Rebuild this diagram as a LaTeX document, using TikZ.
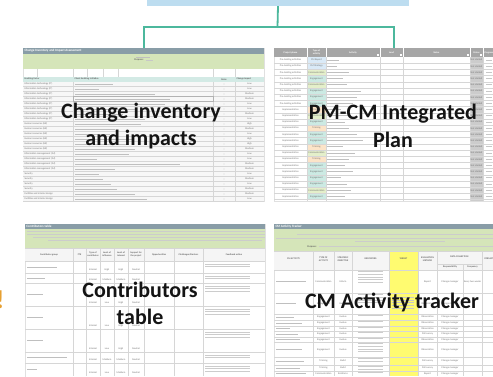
\documentclass[tikz,border=0pt]{standalone}
\usepackage{fontspec}
\setmainfont{Carlito}
\usetikzlibrary{positioning}

\definecolor{barblue}{RGB}{189,221,240}
\definecolor{linkteal}{RGB}{76,184,157}
\definecolor{slate}{RGB}{137,157,167}
\definecolor{notegreen}{RGB}{213,229,185}
\definecolor{headteal}{RGB}{211,234,229}
\definecolor{headgrey}{RGB}{166,166,166}
\definecolor{statusgrey}{RGB}{204,204,204}
\definecolor{typeblue}{RGB}{218,234,247}
\definecolor{typegreen}{RGB}{228,239,202}
\definecolor{typeteal}{RGB}{204,234,227}
\definecolor{typeorange}{RGB}{252,228,200}
\definecolor{targetyellow}{RGB}{255,251,112}
\definecolor{alertorange}{RGB}{230,160,50}

\tikzset{
  topbar/.style={fill=barblue, minimum width=262pt, minimum height=22pt, inner sep=0pt},
  link/.style={draw=linkteal, line width=1.8pt},
  panel/.style={draw=black!12, fill=white, line width=0.3pt, inner sep=0pt, anchor=north west},
  gridline/.style={draw=black!16, line width=0.3pt},
  blur/.style={fill=black!25},
  celltext/.style={font=\fontsize{2.5}{2.8}\selectfont, text=black!55, inner sep=0.3pt},
  headtext/.style={font=\bfseries\fontsize{3.3}{3.5}\selectfont, text=white, inner sep=0.3pt, anchor=west},
  colhead/.style={font=\bfseries\fontsize{2.4}{2.7}\selectfont, text=black!60, inner sep=0.3pt, align=center},
  biglabel/.style={font=\bfseries\fontsize{22}{27.5}\selectfont, text=black!92, align=center, inner sep=0pt},
}

\begin{document}
\begin{tikzpicture}[x=1pt,y=-1pt]
\useasboundingbox (0,0) rectangle (493,376);

%top bar
\node[topbar] (bar) at (278,-5) {};

%inventory panel
\node[panel, minimum width=241pt, minimum height=153pt] (invpanel) at (23,48) {};
\fill[slate] (23,48) rectangle (264,53.5);
\node[headtext] (invtitle) at (24,50.8) {Change Inventory and Impact Assessment};
\fill[notegreen] (23,53.5) rectangle (264,69);
\fill[black!25] (136,57.3) rectangle (150,58.1);
\node[celltext, text=black!60] (invpurpose) at (139,60.3) {\textbf{Purpose:}};
\fill[black!22] (146,59.9) rectangle (153,60.7);
\foreach \x in {37,73,87,103,118,213,235} \draw[gridline] (\x,69) -- (\x,77);
\fill[headteal] (23,77) rectangle (264,81.5);
\node[colhead, anchor=west] at (24,79.3) {Enabling factor};
\node[colhead, anchor=west] at (74,79.3) {Client Enabling Initiative};
\node[colhead] at (224,79.3) {Roles};
\node[colhead, anchor=west] at (236,79.3) {Change impact};
\fill[black!3] (23,81.5) rectangle (264,201);
\foreach \i in {0,...,23} \draw[gridline] (23,86.5+5*\i) -- (264,86.5+5*\i);
\foreach \x in {73,213,235} \draw[gridline] (\x,81.5) -- (\x,201);
\foreach \f [count=\i from 0] in {Information technology (IT),Information technology (IT),Information technology (IT),Information technology (IT),Information technology (IT),Information technology (IT),Information technology (IT),Information technology (IT),Human resources (HR),Human resources (HR),Human resources (HR),Human resources (HR),Human resources (HR),Human resources (HR),Information management (IM),Information management (IM),Information management (IM),Information management (IM),Security,Security,Security,Security,Facilities and interior design,Facilities and interior design}
  \node[celltext, anchor=west] at (24,84+5*\i) {\f};
\foreach \w [count=\i from 0] in {38,24,80,95,90,62,48,70,66,40,35,58,52,60,54,22,105,40,24,28,36,42,60,72}
  \fill[blur] (74.5,83.5+5*\i) rectangle ++(\w,1);
\foreach \v [count=\i from 0] in {Low,Low,Medium,Medium,Low,Low,Medium,Low,High,Medium,Low,High,High,Medium,Low,Low,Medium,Medium,Low,Medium,Low,Medium,Medium,Low}
  \node[celltext] at (249.5,84+5*\i) {\v};
\foreach \i in {0,...,23} \fill[black!40] (224,84+5*\i) circle (0.45);
\draw[black!30, line width=0.3pt] (73,96.5) rectangle (213,101.5);

%plan panel
\node[panel, minimum width=240pt, minimum height=153pt] (planpanel) at (274,48) {};
\fill[headgrey] (274,48) rectangle (514,57);
\fill[statusgrey] (470,57) rectangle (483,201);
\foreach \col/\txt [count=\i from 0] in {typeblue/CM Report,typeblue/CM Strategy,typegreen/Communication,typeteal/Engagement,typegreen/Communication,typeteal/Engagement,typeteal/Engagement,typeteal/Engagement,typeorange/Training,typegreen/Communication,typeteal/Engagement,typeorange/Training,typeteal/Engagement,typeteal/Engagement,typeorange/Training,typegreen/Communication,typeorange/Training,typeteal/Engagement,typeteal/Engagement,typeteal/Engagement,typeteal/Engagement,typegreen/Communication,typeteal/Engagement}
{
  \fill[\col] (307,{57+6.2*\i}) rectangle ++(19,6.2);
  \node[celltext] at (316.5,{60.1+6.2*\i}) {\txt};
}
\foreach \x in {307,326,380,403,470,483} \draw[white, line width=0.3pt] (\x,48) -- (\x,57);
\foreach \x in {307,326,380,403,470,483} \draw[gridline] (\x,57) -- (\x,201);
\foreach \i in {0,...,22} \draw[gridline] (274,{63.2+6.2*\i}) -- (514,{63.2+6.2*\i});
\node[colhead, text=white] at (290.5,52.5) {Project phase};
\node[colhead, text=white] at (316.5,52.5) {Type of\\activity};
\node[colhead, text=white] at (353,52.5) {Activity};
\node[colhead, text=white] at (391.5,52.5) {Lead};
\node[colhead, text=white] at (436.5,52.5) {Notes};
\node[colhead, text=white] at (476.5,52.5) {Status};
\node[colhead, text=white, anchor=west] at (484,52.5) {Progress};
\foreach \x in {380,403,470,483} \fill[white] ({\x-2.8},53.8) rectangle ++(2.2,2.4);
\foreach \i in {0,...,7} \node[celltext] at (290.5,{60.1+6.2*\i}) {Pre-landing activities};
\foreach \i in {8,...,22} \node[celltext] at (290.5,{60.1+6.2*\i}) {Implementation};
\foreach \w [count=\i from 0] in {12,10,22,16,20,34,30,26,14,24,18,22,30,36,16,28,22,18,26,14,20,24,18}
  \fill[blur] (327,{59.6+6.2*\i}) rectangle ++(\w,1);
\foreach \i in {0,...,22} \node[celltext] at (476.5,{60.1+6.2*\i}) {Not started};
\foreach \i in {0,...,22} \fill[black!22] (486,{59.6+6.2*\i}) rectangle ++(6,1);

%contributors panel
\node[panel, minimum width=240pt, minimum height=153pt] (contpanel) at (25,224) {};
\fill[slate] (25,224) rectangle (265,228.5);
\node[headtext] (conttitle) at (26,226.3) {Contributors table};
\fill[notegreen] (25,228.5) rectangle (265,248);
\foreach \y/\xa/\xb in {230.5/27/265,233.5/27/265,236.5/33/265,239.5/48/262}
  \fill[black!20] (\xa,\y) rectangle (\xb,{\y+0.8});
\fill[black!4] (25,248) rectangle (265,261);
\foreach \xa/\xb/\txt in {25/73/Contributor group,73/86/FTE,86/100/Type of\\contributor,100/114/Level of\\influence,114/128/Level of\\interest,128/144/Support for\\the project,144/174/Opportunities,174/203/{Challenges/Barriers},203/265/Feedback action}
  \node[colhead] at ({(\xa+\xb)/2},254.5) {\txt};
\foreach \x in {73,86,100,114,128,144,174,203} \draw[gridline] (\x,248) -- (\x,376);
\foreach \y in {248,261,273,283,306,329,352,363} \draw[gridline] (25,\y) -- (265,\y);
\foreach \ra/\rb/\w/\ty/\lv/\ie/\n in {261/273/30/Internal/High/High/2,273/283/18/Internal/Medium/Medium/2,283/306/16/Internal/Low/High/3,306/329/16/Internal/Low/High/3,329/352/16/Internal/Low/High/3,352/363/40/Internal/Medium/Medium/2,363/376/10/Internal/Low/Medium/3}
{
  \fill[blur] (27,{(\ra+\rb)/2-0.5}) rectangle ++(\w,1);
  \node[celltext] at (93,{\rb-3}) {\ty};
  \node[celltext] at (107,{\rb-3}) {\lv};
  \node[celltext] at (121,{\rb-3}) {\ie};
  \node[celltext] at (136,{\rb-3}) {Neutral};
  \foreach \k in {1,...,\n} \fill[black!20] (205,{\ra+2.5*\k}) rectangle ++(45,0.9);
}

%tracker panel
\node[panel, minimum width=240pt, minimum height=153pt] (trackpanel) at (274,224) {};
\fill[slate] (274,224) rectangle (514,229);
\node[headtext] (tracktitle) at (275,226.5) {CM Activity Tracker};
\fill[notegreen] (274,229) rectangle (514,251);
\fill[black!20] (297,234.2) rectangle (514,235);
\fill[black!20] (276,237.8) rectangle (514,238.6);
\fill[black!20] (355,241.4) rectangle (445,242.2);
\node[celltext, text=black!60] (trackpurpose) at (312,246.5) {\textbf{Purpose:}};
\fill[black!20] (319,246.1) rectangle (514,246.9);
\fill[black!4] (274,251) rectangle (514,270);
\fill[targetyellow] (389,251) rectangle (418,376);
\foreach \xa/\xb/\txt in {274/313/CM ACTIVITY,313/334/TYPE OF\\ACTIVITY,334/352/STRATEGIC\\OBJECTIVE,352/389/INDICATORS,389/418/TARGET,418/437/EVALUATION\\METHOD}
  \node[colhead] at ({(\xa+\xb)/2},259) {\txt};
\node[colhead] at (459.5,256.5) {DATA COLLECTION};
\node[colhead] at (450,267) {Responsibility};
\node[colhead] at (472.5,267) {Frequency};
\node[colhead, anchor=west] at (484,259) {FORMAT};
\foreach \x in {313,334,352,389,418,437,482} \draw[gridline] (\x,251) -- (\x,376);
\draw[gridline] (463,264) -- (463,376);
\draw[gridline] (437,264) -- (482,264);
\foreach \y in {251,270,293,314,320,326,331,337,342,357,365,371} \draw[gridline] (274,\y) -- (514,\y);
\foreach \ra/\rb/\w/\ty/\ob/\me/\n in {270/293/30/Communication/Inform/Report/5,293/314/20/Engagement/Involve/Observation/4,314/320/18/Engagement/Involve/Observation/1,320/326/26/Engagement/Involve/Observation/1,326/331/14/Engagement/Involve/Observation/1,331/337/22/Engagement/Involve/Poll survey/1,337/342/24/Engagement/Involve/Observation/1,342/357/26/Engagement/Involve/Observation/4,357/365/28/Training/Build/Poll survey/2,365/371/24/Training/Build/Poll survey/2,371/376/30/Communication/Reinforce/Report/1}
{
  \fill[blur] (276,{(\ra+\rb)/2-0.5}) rectangle ++(\w,1);
  \node[celltext] at (323.5,{(\ra+\rb)/2}) {\ty};
  \node[celltext] at (343,{(\ra+\rb)/2}) {\ob};
  \node[celltext] at (427.5,{(\ra+\rb)/2}) {\me};
  \node[celltext] at (450,{(\ra+\rb)/2}) {Change manager};
  \foreach \k in {1,...,\n} \fill[black!20] (358,{\ra+1+2.8*(\k-1)}) rectangle ++(25,0.8);
}
\foreach \k in {1,...,5} \fill[black!22] (392,{294+2.8*\k}) rectangle ++(22,0.8);
\node[celltext] at (472.5,281.5) {Every two weeks};

%links
\coordinate (split) at (277.5,27);
\draw[link] (bar.south) -- (split);
\draw[link] (split) -| (invpanel.north);
\draw[link] (split) -| (planpanel.north);

%labels
\node[biglabel] (invlabel) at (141,126) {Change inventory\\and impacts};
\node[biglabel] (planlabel) at (393,126) {PM-CM Integrated\\Plan};
\node[biglabel] (contlabel) at (140,303.5) {Contributors\\table};
\node[biglabel] (tracklabel) at (392,302) {CM Activity tracker};
\node[font=\bfseries\fontsize{26}{26}\selectfont, text=alertorange, inner sep=0pt, anchor=east] (alert) at (4.5,300) {!};
\end{tikzpicture}
\end{document}
